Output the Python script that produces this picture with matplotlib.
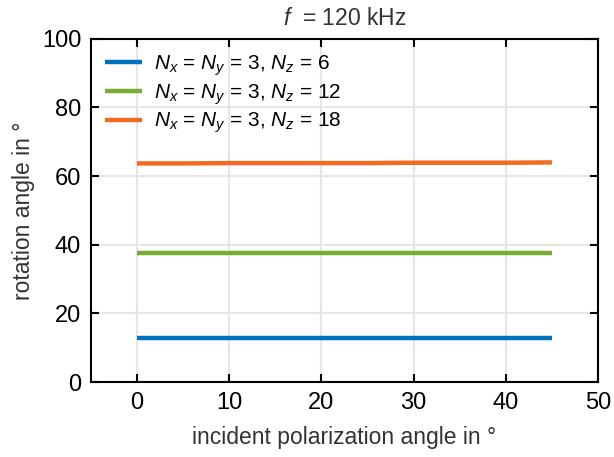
import numpy as np
import matplotlib
matplotlib.use('Agg')
import matplotlib.pyplot as plt

plt.rcParams['font.family'] = ['Liberation Sans', 'DejaVu Sans']
plt.rcParams['mathtext.fontset'] = 'custom'
plt.rcParams['mathtext.rm'] = 'Liberation Sans'
plt.rcParams['mathtext.it'] = 'Liberation Sans:italic'

pol_angle = [0, 5, 10, 15, 20, 25, 30, 35, 40, 45]
rot_nz6 = [12.9, 12.9, 12.9, 12.9, 12.9, 12.9, 12.9, 12.9, 12.9, 12.9]
rot_nz12 = [37.5, 37.5, 37.5, 37.5, 37.5, 37.5, 37.5, 37.5, 37.5, 37.5]
rot_nz18 = [63.7, 63.7, 63.8, 63.8, 63.8, 63.8, 63.9, 63.9, 63.9, 64.0]
labels = [r'$N_x$ = $N_y$ = 3, $N_z$ = 6',
          r'$N_x$ = $N_y$ = 3, $N_z$ = 12',
          r'$N_x$ = $N_y$ = 3, $N_z$ = 18']
colors = ['#0072BD', '#77AC30', '#F26B21']

fig = plt.figure(figsize=(6.14, 4.57), dpi=100)
ax = fig.add_axes([0.148, 0.164, 0.826, 0.751])

for ys, lab, c in zip([rot_nz6, rot_nz12, rot_nz18], labels, colors):
    ax.plot(pol_angle, ys, color=c, linewidth=3.2, label=lab, solid_capstyle='butt')

ax.set_xlim(-5, 50)
ax.set_ylim(0, 100)
ax.set_xticks(np.arange(0, 51, 10))
ax.set_yticks(np.arange(0, 101, 20))
ax.grid(color='#e6e6e6', linewidth=1.5)
ax.set_axisbelow(True)
ax.tick_params(direction='in', length=6, width=1.5, top=True, right=True,
               labelsize=17, pad=7)
for s in ax.spines.values():
    s.set_linewidth(1.5)

ax.set_xlabel('incident polarization angle in °', fontsize=16.5, color='#333333', labelpad=9)
ax.set_ylabel('rotation angle in °', fontsize=16.5, color='#333333', labelpad=5)
ax.set_title(r'$f$  = 120 kHz', fontsize=16.5, color='#333333', pad=10)

ax.legend(loc='upper left', frameon=False, fontsize=15, handlelength=1.75,
          labelspacing=0.2, borderaxespad=0.3, handletextpad=0.6,
          borderpad=0.4)

fig.savefig('out.png', dpi=100)
